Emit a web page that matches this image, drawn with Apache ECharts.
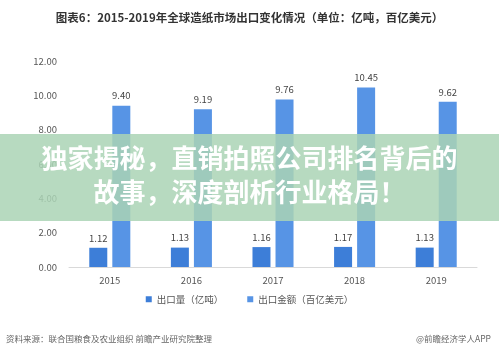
<!DOCTYPE html>
<html><head><meta charset="utf-8">
<script src="https://cdn.jsdelivr.net/npm/echarts@6/dist/echarts.min.js"></script>
<style>html,body{margin:0;padding:0;background:#fff}#c{width:499px;height:359px}</style>
</head><body><div id="c"></div>
<script>
const categories = ['2015','2016','2017','2018','2019'];
const volume = [1.12, 1.13, 1.16, 1.17, 1.13];
const value = [9.40, 9.19, 9.76, 10.45, 9.62];
const yTicks = [0, 2, 4, 6, 8, 10, 12];
const seriesNames = ['出口量（亿吨）', '出口金额（百亿美元）'];
const titleText = '图表6：2015-2019年全球造纸市场出口变化情况（单位：亿吨，百亿美元）';
const sourceText = '资料来源：联合国粮食及农业组织 前瞻产业研究院整理';
const brandText = '@前瞻经济学人APP';
const bannerLines = ['独家揭秘，直销拍照公司排名背后的', '故事，深度剖析行业格局！'];

const font = '"Noto Sans CJK SC", "Noto Sans", sans-serif';
const chart = echarts.init(document.getElementById('c'));
chart.setOption({
  animation: false,
  textStyle: {fontFamily: font},
  title: {text: titleText, left: 'center', top: 7,
    textStyle: {fontSize: 11.5, fontWeight: 'bold', color: '#333', fontFamily: font}},
  grid: {left: 69, right: 22, top: 61, bottom: 92},
  legend: {bottom: 50, left: 'center', itemWidth: 6, itemHeight: 6, itemGap: 24, icon: 'rect',
    textStyle: {fontSize: 9.5, color: '#555', fontFamily: font}, data: seriesNames},
  xAxis: {type: 'category', data: categories,
    axisLine: {lineStyle: {color: '#d9d9d9'}}, axisTick: {show: false},
    axisLabel: {color: '#555', fontSize: 9.5, margin: 9}},
  yAxis: {type: 'value', min: yTicks[0], max: yTicks[yTicks.length-1], interval: 2,
    axisLine: {show: false}, axisTick: {show: false}, splitLine: {show: false},
    axisLabel: {color: '#555', fontSize: 9.5, margin: 12, formatter: v => v.toFixed(2)}},
  series: [
    {name: seriesNames[0], type: 'bar', data: volume, barWidth: 18, barGap: '28%',
      itemStyle: {color: '#3d7ed8'},
      label: {show: true, position: 'top', color: '#444', fontSize: 9.5, distance: 5, formatter: p => p.value.toFixed(2)}},
    {name: seriesNames[1], type: 'bar', data: value, barWidth: 18,
      itemStyle: {color: '#5794e5'},
      label: {show: true, position: 'top', color: '#444', fontSize: 9.5, distance: 5, formatter: p => p.value.toFixed(2)}}
  ],
  graphic: [
    {type: 'rect', left: 0, top: 134, shape: {width: 499, height: 87}, z: 100,
      style: {fill: 'rgba(170,211,181,0.85)'}},
    {type: 'text', left: 'center', top: 145, z: 101,
      style: {text: bannerLines[0], fill: '#fff', font: 'bold 26px ' + font,
        shadowColor: 'rgba(0,0,0,0.15)', shadowBlur: 2}},
    {type: 'text', left: 'center', top: 179, z: 101,
      style: {text: bannerLines[1], fill: '#fff', font: 'bold 26px ' + font,
        shadowColor: 'rgba(0,0,0,0.15)', shadowBlur: 2}},
    {type: 'text', left: 6, top: 335, style: {text: sourceText, fill: '#666', font: '8.5px ' + font}},
    {type: 'text', right: 8, top: 335, style: {text: brandText, fill: '#666', font: '8.5px ' + font}}
  ]
});
</script></body></html>
